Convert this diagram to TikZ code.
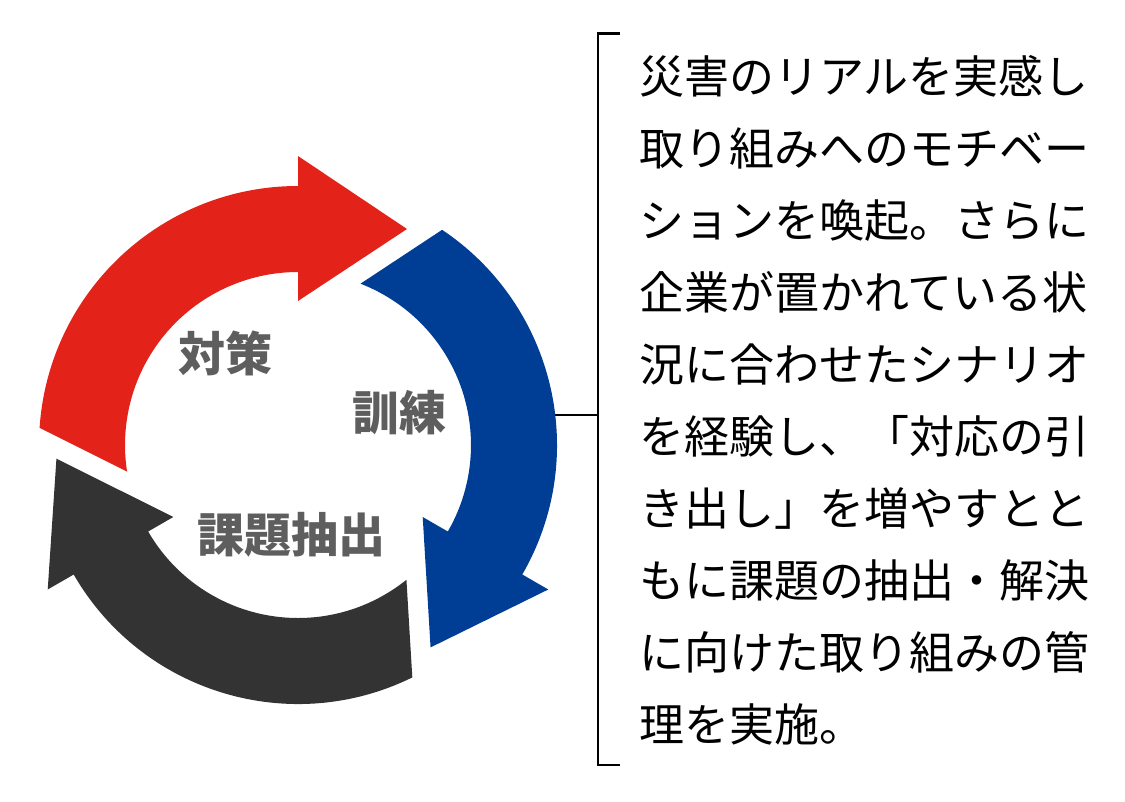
\documentclass[tikz,border=0pt]{standalone}
\usepackage{fontspec}
\newfontfamily\jp{Noto Sans CJK JP}
\definecolor{redc}{HTML}{E32319}
\definecolor{bluec}{HTML}{003E95}
\definecolor{darkc}{HTML}{333333}
\definecolor{lblc}{HTML}{5E5E5E}
\tikzset{
  cyclearrow/.pic={
    \fill[pic actions] (176.19:259) arc[start angle=176.19, end angle=90, radius=259]
      -- (90:289) -- (109,216) -- (90:144) -- (90:173)
      arc[start angle=90, end angle=188.82, radius=173] -- cycle;
  },
  lbl/.style={inner sep=0pt, text=lblc, font=\jp\bfseries\fontsize{47}{50}\selectfont},
  bodytext/.style={inner sep=0pt, anchor=base west, font=\jp\fontsize{45}{72}\selectfont},
  bracketline/.style={line width=2.4pt, black},
}
\begin{document}
\begin{tikzpicture}[x=1pt,y=1pt]
\useasboundingbox (0,0) rectangle (1125,-801);
\coordinate (C) at (298,-445);
\pic[fill=redc] at (C) {cyclearrow};
\pic[fill=bluec, rotate=-120] at (C) {cyclearrow};
\pic[fill=darkc, rotate=120] at (C) {cyclearrow};
\node[lbl] (taisaku) at (225.7,-353.5) {対策};
\node[lbl] (kunren) at (399,-412.5) {訓練};
\node[lbl] (kadai) at (291,-535) {課題抽出};
\coordinate (btop) at (597.7,-33.3);
\coordinate (bbot) at (597.7,-765);
\coordinate (btopend) at (620,-33.3);
\coordinate (bbotend) at (620,-765);
\coordinate (bmid) at (597.7,-415);
\coordinate (ringpt) at (555.3,-415);
\draw[bracketline] (btopend) -- (btop) -- (bbot) -- (bbotend);
\draw[bracketline] (ringpt) -- (bmid);
\foreach \t [count=\i] in {災害のリアルを実感し,取り組みへのモチベー,ションを喚起。さらに,企業が置かれている状,況に合わせたシナリオ,を経験し、「対応の引,き出し」を増やすとと,もに課題の抽出・解決,に向けた取り組みの管,理を実施。}
  \node[bodytext] (t\i) at (639,{-93-72*(\i-1)}) {\t};
\end{tikzpicture}
\end{document}
